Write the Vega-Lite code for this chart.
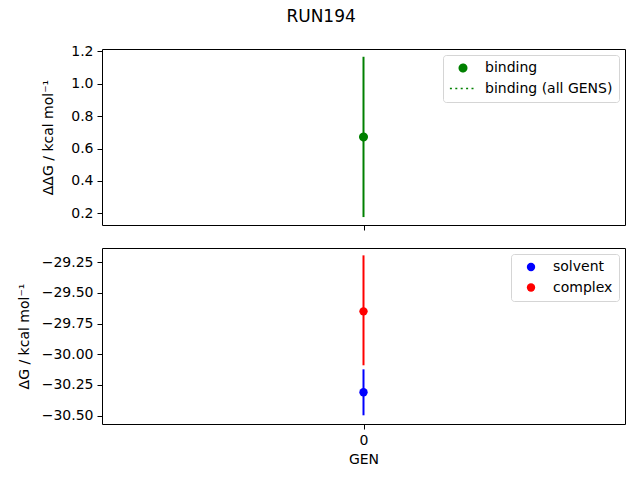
{
  "$schema": "https://vega.github.io/schema/vega-lite/v6.json",
  "background": "white",
  "padding": {"left": 16, "top": 8, "right": 15, "bottom": 10},
  "title": {"text": "RUN194", "fontSize": 17, "font": "DejaVu Sans", "fontWeight": "normal", "color": "black", "anchor": "middle", "offset": 17.5},
  "spacing": 16,
  "resolve": {
    "scale": {"color": "independent", "stroke": "independent", "shape": "independent", "strokeDash": "independent", "x": "independent", "y": "independent"},
    "legend": {"color": "independent", "stroke": "independent", "shape": "independent", "strokeDash": "independent"}
  },
  "config": {
    "font": "DejaVu Sans",
    "view": {"stroke": "black", "strokeWidth": 1},
    "axis": {"domain": false, "grid": false, "ticks": true, "tickColor": "black", "tickSize": 5, "tickWidth": 1, "labelColor": "black", "labelFont": "DejaVu Sans", "labelFontSize": 14, "labelPadding": 4, "titleFont": "DejaVu Sans", "titleFontSize": 14, "titleFontWeight": "normal", "titleColor": "black", "labelFlush": false, "labelOverlap": false},
    "legend": {"orient": "top-right", "offset": 6, "strokeColor": "#d5d5d5", "fillColor": "white", "cornerRadius": 3, "padding": 6, "labelFont": "DejaVu Sans", "labelFontSize": 14, "labelColor": "black", "symbolSize": 70, "symbolOpacity": 1, "rowPadding": 6.5, "symbolOffset": 7, "labelOffset": 15}
  },
  "vconcat": [
    {
      "width": 523,
      "height": 176,
      "data": {"values": [{"gen": 0, "series": "binding", "dG": 0.672, "lo": 0.177, "hi": 1.167}]},
      "layer": [
        {
          "mark": {"type": "rule", "strokeWidth": 2, "color": "#008000"},
          "encoding": {
            "x": {"field": "gen", "type": "quantitative", "scale": {"domain": [-1, 1]}, "axis": {"values": [0], "labels": false, "title": null}},
            "y": {"field": "lo", "type": "quantitative", "scale": {"domain": [0.128, 1.215], "nice": false, "zero": false}, "axis": {"values": [0.2, 0.4, 0.6, 0.8, 1.0, 1.2], "tickCount": 20, "format": ".1f", "title": "ΔΔG / kcal mol⁻¹", "titlePadding": 15}},
            "y2": {"field": "hi"}
          }
        },
        {
          "mark": {"type": "point", "filled": true, "color": "#008000", "size": 56, "strokeWidth": 1.5, "opacity": 1},
          "encoding": {
            "x": {"field": "gen", "type": "quantitative"},
            "y": {"field": "dG", "type": "quantitative"},
            "shape": {"field": "series", "type": "nominal", "scale": {"domain": ["binding", "binding (all GENS)"], "range": ["circle", "M-3.5,0L3.5,0"]}, "legend": {"title": null, "symbolSize": 56}},
            "stroke": {"field": "series", "type": "nominal", "scale": {"domain": ["binding", "binding (all GENS)"], "range": ["#008000", "#008000"]}, "legend": {"title": null, "symbolSize": 56}},
            "strokeDash": {"field": "series", "type": "nominal", "scale": {"domain": ["binding", "binding (all GENS)"], "range": [[1, 0], [2, 3.4]]}, "legend": {"title": null, "symbolSize": 56}}
          }
        }
      ]
    },
    {
      "width": 523,
      "height": 176,
      "data": {"values": [
        {"gen": 0, "series": "solvent", "dG": -30.31, "lo": -30.498, "hi": -30.123},
        {"gen": 0, "series": "complex", "dG": -29.65, "lo": -30.09, "hi": -29.193}
      ]},
      "layer": [
        {
          "mark": {"type": "rule", "strokeWidth": 2},
          "encoding": {
            "x": {"field": "gen", "type": "quantitative", "scale": {"domain": [-1, 1]}, "axis": {"values": [0], "format": "d", "title": "GEN", "titlePadding": 5}},
            "y": {"field": "lo", "type": "quantitative", "scale": {"domain": [-30.569, -29.133], "nice": false, "zero": false}, "axis": {"values": [-30.5, -30.25, -30.0, -29.75, -29.5, -29.25], "tickCount": 20, "format": ".2f", "title": "ΔG / kcal mol⁻¹", "titlePadding": 10}},
            "y2": {"field": "hi"},
            "stroke": {"field": "series", "type": "nominal", "scale": {"domain": ["complex", "solvent"], "range": ["#ff0000", "#0000ff"]}, "legend": null}
          }
        },
        {
          "mark": {"type": "point", "filled": true, "size": 70, "opacity": 1},
          "encoding": {
            "x": {"field": "gen", "type": "quantitative"},
            "y": {"field": "dG", "type": "quantitative"},
            "color": {"field": "series", "type": "nominal", "scale": {"domain": ["solvent", "complex"], "range": ["#0000ff", "#ff0000"]}, "legend": {"title": null, "symbolType": "circle"}}
          }
        }
      ]
    }
  ]
}
